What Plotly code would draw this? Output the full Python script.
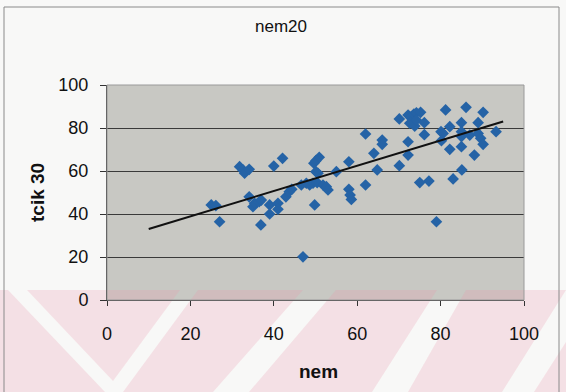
import numpy as np
import plotly.graph_objects as go

# nem (x) vs tcik 30 (y) observations
nem = [25.0, 26.1, 27.0, 31.8, 32.6, 33.0, 34.1, 34.1, 35.0, 35.4, 36.5, 37.0, 36.9,
       39.0, 39.0, 41.0, 41.0, 40.0, 42.1, 42.9, 43.7, 44.3, 46.6, 47.0, 47.8, 48.6,
       49.4, 50.4, 51.8, 52.6, 53.0, 49.8, 50.9, 50.1, 49.6, 50.1, 50.6, 55.0, 58.0,
       58.0, 58.3, 58.6, 62.0, 62.0, 64.0, 64.8, 66.0, 66.0, 70.1, 70.1, 72.2, 73.0,
       73.6, 74.2, 75.2, 72.6, 73.8, 74.2, 76.1, 76.1, 72.2, 72.2, 75.0, 77.2, 79.0,
       81.2, 80.1, 80.6, 80.2, 82.2, 82.2, 83.0, 85.1, 86.1, 85.0, 85.0, 85.0, 85.0,
       87.0, 88.1, 89.0, 89.0, 89.6, 90.2, 90.2, 93.3]
tcik30 = [44.2, 43.9, 36.4, 62.0, 60.5, 59.0, 60.8, 48.0, 43.4, 45.0, 45.7, 46.5, 34.9,
          44.2, 40.0, 45.0, 42.2, 62.3, 65.9, 48.0, 50.4, 51.5, 53.5, 20.1, 54.3, 53.5,
          54.3, 54.6, 53.5, 52.7, 51.2, 44.2, 66.4, 64.8, 63.6, 59.7, 58.9, 59.7, 64.3,
          51.5, 48.8, 46.8, 53.5, 77.2, 68.2, 60.5, 74.4, 72.4, 62.5, 84.2, 86.0, 85.3,
          86.5, 87.1, 87.3, 82.2, 80.9, 83.7, 82.5, 76.9, 73.6, 67.4, 54.6, 55.3, 36.4,
          88.4, 78.3, 77.5, 74.1, 80.6, 70.1, 56.3, 60.5, 89.6, 82.5, 78.3, 76.0, 71.3,
          76.7, 67.4, 82.5, 77.5, 75.2, 72.4, 87.3, 78.3]

axis_ticks = [0, 20, 40, 60, 80, 100]
trend_span = [10, 95]

# least-squares trend line
slope, intercept = np.polyfit(nem, tcik30, 1)
trend_x = np.array(trend_span, dtype=float)
trend_y = slope * trend_x + intercept

W, H = 566, 392
ML, MR, MT, MB = 107, 42, 85, 92
PW, PH = W - ML - MR, H - MT - MB


def px(x):
    return (x - ML) / PW


def py(y):
    return (H - MB - y) / PH


def poly_path(points):
    pts = [f"{px(a):.4f},{py(b):.4f}" for a, b in points]
    return "M" + " L".join(pts) + " Z"


# pink chevron band printed across the lower part of the page
band = [
    [(0, 290), (8, 290), (105, 392), (0, 392)],
    [(27, 290), (180, 290), (113, 381)],
    [(198, 290), (303, 290), (213, 392), (123, 392)],
    [(336, 290), (437, 290), (372, 392), (249, 392)],
    [(466, 290), (566, 290), (502, 392), (408, 392)],
    [(534, 392), (566, 392), (566, 342)],
]

shapes = []
for poly in band:
    shapes.append(dict(type="path", xref="paper", yref="paper", path=poly_path(poly),
                       fillcolor="rgba(236,150,172,0.24)", line=dict(width=0),
                       layer="below"))

# outer chart frame
shapes.append(dict(type="rect", xref="paper", yref="paper",
                   x0=px(4), x1=px(559), y0=py(398), y1=py(7),
                   line=dict(color="#8a8a8a", width=1), fillcolor="rgba(0,0,0,0)",
                   layer="above"))
# plot area border
shapes.append(dict(type="rect", xref="paper", yref="paper", x0=0, x1=1, y0=0, y1=1,
                   line=dict(color="#9a9a9a", width=1), fillcolor="rgba(0,0,0,0)",
                   layer="above"))

fig = go.Figure()
fig.add_trace(go.Scatter(
    x=nem, y=tcik30, mode="markers",
    marker=dict(symbol="diamond", size=9, color="#2563a6", line=dict(width=0)),
    showlegend=False, hoverinfo="x+y"))
fig.add_trace(go.Scatter(
    x=trend_x, y=trend_y, mode="lines",
    line=dict(color="#111111", width=2), showlegend=False, hoverinfo="skip"))

font_family = "Liberation Sans, Arial, sans-serif"

fig.update_layout(
    width=W, height=H,
    margin=dict(l=ML, r=MR, t=MT, b=MB, pad=0),
    paper_bgcolor="#f8f8f7",
    plot_bgcolor="#c8c8c3",
    font=dict(family=font_family, color="#111111"),
    shapes=shapes,
    annotations=[
        dict(text="nem20", xref="paper", yref="paper", x=px(281), y=py(27),
             showarrow=False, font=dict(size=17, family=font_family, color="#111111"),
             xanchor="center", yanchor="middle"),
        dict(text="<b>nem</b>", xref="paper", yref="paper", x=px(318), y=py(371),
             showarrow=False, font=dict(size=19, family=font_family, color="#111111"),
             xanchor="center", yanchor="middle"),
        dict(text="<b>tcik 30</b>", xref="paper", yref="paper", x=px(37), y=py(193),
             showarrow=False, textangle=-90,
             font=dict(size=19, family=font_family, color="#111111"),
             xanchor="center", yanchor="middle"),
    ],
    xaxis=dict(range=[0, 100], tickvals=axis_ticks, ticks="outside", ticklen=5,
               tickcolor="#333333", showline=True, linecolor="#333333", linewidth=1,
               showgrid=False, zeroline=False, ticklabelstandoff=12,
               tickfont=dict(size=18, family=font_family, color="#111111")),
    yaxis=dict(range=[0, 100], tickvals=axis_ticks, ticks="outside", ticklen=6,
               tickcolor="#333333", showline=True, linecolor="#333333", linewidth=1,
               showgrid=True, gridcolor="#3a3a3a", gridwidth=1, zeroline=False,
               ticklabelstandoff=8,
               tickfont=dict(size=18, family=font_family, color="#111111")),
)

fig.write_html("out.html")
